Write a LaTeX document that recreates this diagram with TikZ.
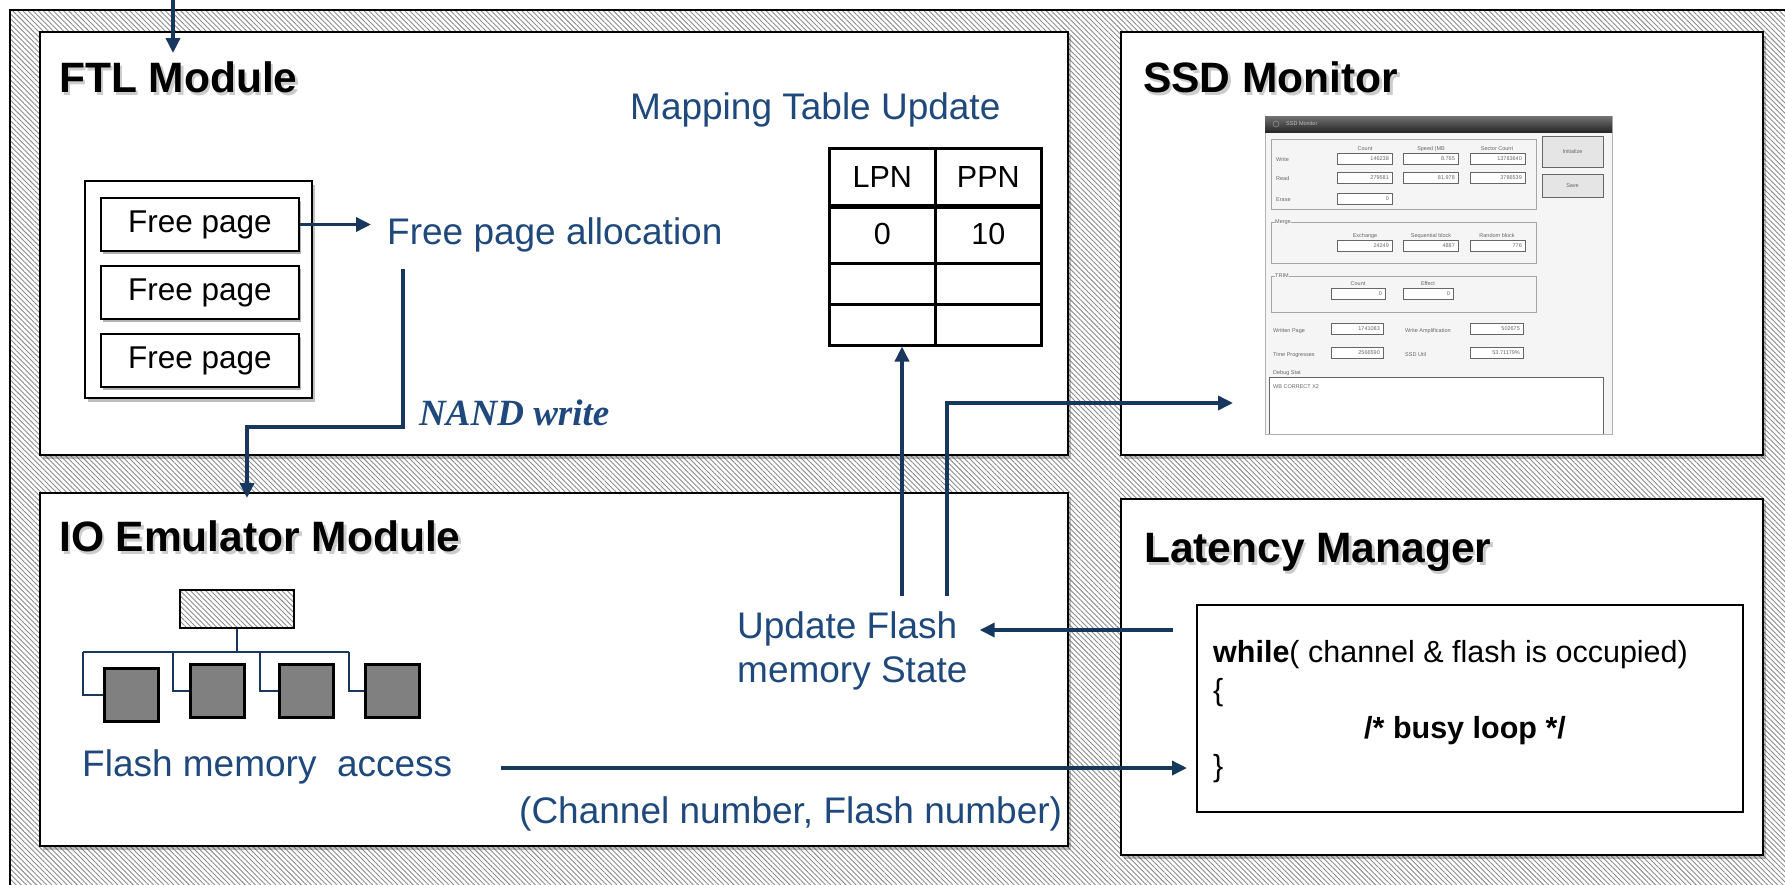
\documentclass[tikz,border=0pt]{standalone}
\usepackage{fontspec}
\setmainfont{Liberation Sans}
\newfontfamily\nandfont{Liberation Serif}
\usetikzlibrary{positioning, arrows.meta, shadows, patterns.meta}
\definecolor{navy}{RGB}{23,55,94}
\definecolor{txtblue}{RGB}{31,73,125}
\newcommand{\shadowed}[1]{\rlap{\hspace{2.5pt}\raisebox{-3.5pt}[0pt][0pt]{\textcolor{black!20}{#1}}}#1}

\begin{document}
\begin{tikzpicture}[x=1pt, y=-1pt,
		hatch/.style={pattern={Lines[angle=-45,distance=3.6pt,line width=0.9pt]}, pattern color=black!45},
		module/.style={draw, line width=2.5pt, fill=white, inner sep=0pt, outer sep=0pt, anchor=north west, drop shadow={shadow xshift=3pt, shadow yshift=-4pt, opacity=0.25, fill=black}},
		ttl/.style={anchor=base west, inner sep=0pt, font=\fontsize{42.5}{50}\selectfont\bfseries},
		lbl/.style={anchor=base west, inner sep=0pt, text=txtblue, font=\fontsize{37}{44}\selectfont},
		fpage/.style={draw, line width=2pt, fill=white, minimum width=198pt, minimum height=53pt, inner sep=0pt, font=\fontsize{31.5}{38}\selectfont, drop shadow={shadow xshift=2pt, shadow yshift=-3pt, opacity=0.3, fill=black}},
		cell/.style={draw, line width=2.5pt, minimum width=106pt, inner sep=0pt, anchor=north west, font=\fontsize{30.5}{36}\selectfont},
		chip/.style={draw, line width=2.5pt, fill=black!50, minimum width=54pt, minimum height=53pt, inner sep=0pt, anchor=north west, drop shadow={shadow xshift=2pt, shadow yshift=-2pt, opacity=0.3, fill=black}},
		codebox/.style={draw, line width=2pt, fill=white, inner sep=0pt, anchor=north west},
		code/.style={anchor=base west, inner sep=0pt, font=\fontsize{30.5}{36}\selectfont},
		arr/.style={navy, line width=3.5pt, -{Triangle[length=15pt,width=14pt]}},
		bus/.style={navy, line width=2.5pt},
		fld/.style={draw=black!60, fill=white, line width=0.6pt},
		grp/.style={draw=black!35, line width=0.8pt},
		scr/.style={inner sep=0pt, text=black!60, font=\fontsize{5.5}{6}\selectfont}]

	\useasboundingbox (0,0) rectangle (1785,884);
	\clip (0,0) rectangle (1785,884);
	\fill[white] (0,0) rectangle (1785,884);
	\draw[hatch, line width=2pt] (10,10) rectangle (1800,900);

	% modules
	\node[module, minimum width=1028pt, minimum height=423pt]	(ftl)	at (40,32)		{};
	\node[module, minimum width=642pt, minimum height=423pt]	(ssd)	at (1121,32)	{};
	\node[module, minimum width=1028pt, minimum height=353pt]	(io)	at (40,493)		{};
	\node[module, minimum width=642pt, minimum height=356pt]	(lat)	at (1121,499)	{};

	\node[ttl]	(ftlt)	at (59,92)		{\shadowed{FTL Module}};
	\node[ttl]	(ssdt)	at (1143,92)	{\shadowed{SSD Monitor}};
	\node[ttl]	(iot)	at (59,551)		{\shadowed{IO Emulator Module}};
	\node[ttl]	(latt)	at (1144,562)	{\shadowed{Latency Manager}};

	% FTL module
	\node[module, line width=2.5pt, minimum width=227pt, minimum height=217pt]	(fpl)	at (85,181)	{};
	\node[fpage, anchor=north west]		(fp1)	at (100,197)	{Free page};
	\node[fpage, below=13pt of fp1]		(fp2)					{Free page};
	\node[fpage, below=13pt of fp2]		(fp3)					{Free page};

	\node[lbl]	(alloc)	at (387,244)	{Free page allocation};
	\node[lbl]	(map)	at (630,119)	{Mapping Table Update};
	\node[anchor=base west, inner sep=0pt, text=txtblue, font=\fontsize{37}{44}\selectfont\nandfont\bfseries\itshape]	(nand)	at (419,425)	{NAND write};

	\node[cell, minimum height=57pt]	(c11)	at (828,147)	{LPN};
	\node[cell, minimum height=57pt]	(c12)	at (934,147)	{PPN};
	\node[cell, minimum height=58pt]	(c21)	at (828,204)	{0};
	\node[cell, minimum height=58pt]	(c22)	at (934,204)	{10};
	\node[cell, minimum height=41pt]	(c31)	at (828,262)	{};
	\node[cell, minimum height=41pt]	(c32)	at (934,262)	{};
	\node[cell, minimum height=41pt]	(c41)	at (828,303)	{};
	\node[cell, minimum height=41pt]	(c42)	at (934,303)	{};
	\draw[line width=4pt] (c11.south west) -- (c12.south east);

	% IO emulator
	\node[draw, line width=2pt, hatch, minimum width=114pt, minimum height=38pt, inner sep=0pt, anchor=north west]	(ctl)	at (179,589)	{};
	\node[chip]	(sq1)	at (103,667)	{};
	\node[chip]	(sq2)	at (189,663)	{};
	\node[chip]	(sq3)	at (278,663)	{};
	\node[chip]	(sq4)	at (364,663)	{};
	\coordinate (bj) at (ctl.south |- 0,652);
	\draw[bus] (ctl.south) -- (bj);
	\draw[bus] (83,652) -- (349,652);
	\foreach \i/\x in {1/83,2/173,3/260,4/349}
		\draw[bus] (\x,652) |- (sq\i.west);

	\node[lbl]	(fma)	at (82,776)		{Flash memory\ \ access};
	\node[lbl]	(chn)	at (519,823)	{(Channel number, Flash number)};
	\node[lbl]	(upd1)	at (737,638)	{Update Flash};
	\node[lbl]	(upd2)	at (737,682)	{memory State};

	% latency manager
	\node[codebox, minimum width=546pt, minimum height=207pt]	(cb)	at (1196,604)	{};
	\node[code]	(w1)	at (1213,662)	{\textbf{while}( channel \& flash is occupied)};
	\node[code]	(w2)	at (1213,700)	{\{};
	\node[code]	(w3)	at (1364,738)	{\textbf{/* busy loop */}};
	\node[code]	(w4)	at (1213,776)	{\}};

	% monitor window
	\node[draw=black!30, fill=black!4, line width=0.8pt, minimum width=347pt, minimum height=318pt, inner sep=0pt, anchor=north west]	(win)	at (1265,116)	{};
	\shade[top color=black!55, bottom color=black!85] (1265,116) rectangle (1612,132);
	\draw[black!45, line width=0.6pt] (1276,124) circle (3pt);
	\node[scr, anchor=west, text=black!25]	(wint)	at (1286,124)	{SSD Monitor};

	\draw[grp] (1271,139) rectangle (1536,209);
	\draw[grp] (1271,222) rectangle (1536,263);
	\draw[grp] (1271,276) rectangle (1536,312);
	\node[scr, anchor=west, fill=black!4]	(gm)	at (1275,222)	{Merge};
	\node[scr, anchor=west, fill=black!4]	(gt)	at (1275,276)	{TRIM};

	\foreach \n/\x/\y/\t in {h1/1365/150/Count, h2/1431/150/Speed (MB/s), h3/1497/150/Sector Count, h4/1365/237/Exchange, h5/1431/237/Sequential block, h6/1497/237/Random block, h7/1358/285/Count, h8/1428/285/Effect}
		\node[scr, anchor=base]	(\n)	at (\x,\y)	{\t};
	\foreach \n/\x/\y/\t in {r1/1276/161/Write, r2/1276/180/Read, r3/1276/201/Erase, r4/1273/332/Written Page, r5/1405/332/Write Amplification, r6/1273/356/Time Progresses, r7/1405/356/SSD Util, r8/1273/374/Debug Stat}
		\node[scr, anchor=base west]	(\n)	at (\x,\y)	{\t};

	\foreach \x/\y/\w/\v in {1337/153/55/146238, 1403/153/55/8.765, 1470/153/55/13783640, 1337/172/55/279581, 1403/172/55/81.978, 1470/172/55/3786539, 1337/193/55/0, 1337/240/55/24249, 1403/240/55/4887, 1470/240/55/776, 1331/288/54/0, 1403/288/50/0, 1331/323/52/1741083, 1470/323/53/502675, 1331/347/52/2566590, 1470/347/53/53.71179\%}{
		\draw[fld] (\x,\y) rectangle ++(\w,11);
		\node[scr, anchor=east]	(v-\x-\y)	at (\x+\w-3,\y+6)	{\v};
	}
	\draw[fld, fill=black!10] (1542,136) rectangle (1603,167);
	\draw[fld, fill=black!10] (1542,174) rectangle (1603,197);
	\node[scr]	(bi)	at (1572.5,151.5)	{Initialize};
	\node[scr]	(bs)	at (1572.5,185.5)	{Save};
	\draw[fld] (1269,434) |- (1603,377) -- (1603,434);
	\node[scr, anchor=base west]	(dbg)	at (1273,388)	{WB CORRECT X2};

	% connectors
	\coordinate (src)	at (173,0);
	\coordinate (srce)	at (173,53);
	\coordinate (nw)	at (403,269);
	\coordinate (nd)	at (247,427);
	\coordinate (fa)	at (501,768);
	\coordinate (lq)	at (1173,630);
	\coordinate (u1)	at (902,596);
	\coordinate (u2)	at (947,596);
	\coordinate (mon)	at (1233,403);

	\draw[arr] (src) -- (srce);
	\draw[arr, shorten >=16pt] (fp1.east) -- (fp1.east -| alloc.west);
	\draw[arr, shorten >=-5pt] (nw) |- (nd) -- (nd |- io.north);
	\draw[arr, shorten >=9pt] (fa) -- (fa -| cb.west);
	\draw[arr, shorten >=12pt] (lq) -- (lq -| upd2.east);
	\draw[arr] (u1) -- (u1 |- c41.south);
	\draw[arr] (u2) |- (mon);
\end{tikzpicture}
\end{document}
